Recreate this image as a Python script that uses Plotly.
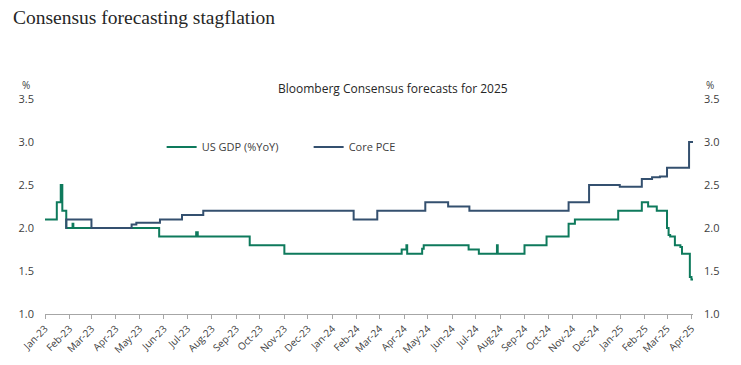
import plotly.graph_objects as go

# ---- data ----
gdp_dates = ["2023-01-01", "2023-01-16", "2023-01-21", "2023-01-23", "2023-01-28",
             "2023-02-05", "2023-02-06", "2023-05-26", "2023-07-12", "2023-07-14",
             "2023-09-18", "2023-11-01", "2024-03-29", "2024-04-04", "2024-04-05",
             "2024-04-24", "2024-04-26", "2024-06-22", "2024-07-05", "2024-07-28",
             "2024-07-29", "2024-09-01", "2024-09-29", "2024-10-27", "2024-11-04",
             "2024-12-29", "2025-01-28", "2025-02-05", "2025-02-16", "2025-03-01",
             "2025-03-03", "2025-03-05", "2025-03-11", "2025-03-18", "2025-03-20",
             "2025-03-30", "2025-04-01", "2025-04-03"]
gdp_values = [2.1, 2.3, 2.5, 2.2, 2.0,
              2.05, 2.0, 1.9, 1.95, 1.9,
              1.8, 1.7, 1.75, 1.8, 1.7,
              1.76, 1.8, 1.75, 1.7, 1.8,
              1.7, 1.8, 1.9, 2.05, 2.1,
              2.2, 2.3, 2.25, 2.2, 2.0,
              1.92, 1.9, 1.8, 1.78, 1.7,
              1.43, 1.4, 1.4]

pce_dates = ["2023-01-27", "2023-01-28", "2023-03-01", "2023-04-21", "2023-04-27",
             "2023-05-27", "2023-06-24", "2023-07-21", "2024-01-28", "2024-02-27",
             "2024-04-28", "2024-05-27", "2024-06-23", "2024-10-27", "2024-11-22",
             "2024-12-31", "2025-01-28", "2025-02-10", "2025-02-20", "2025-03-01",
             "2025-03-29", "2025-04-03"]
pce_values = [2.0, 2.1, 2.0, 2.04, 2.06,
              2.1, 2.15, 2.2, 2.1, 2.2,
              2.3, 2.25, 2.2, 2.3, 2.5,
              2.48, 2.57, 2.59, 2.6, 2.7,
              3.0, 3.0]

month_ticks = ["2023-01-01", "2023-02-01", "2023-03-01", "2023-04-01", "2023-05-01",
               "2023-06-01", "2023-07-01", "2023-08-01", "2023-09-01", "2023-10-01",
               "2023-11-01", "2023-12-01", "2024-01-01", "2024-02-01", "2024-03-01",
               "2024-04-01", "2024-05-01", "2024-06-01", "2024-07-01", "2024-08-01",
               "2024-09-01", "2024-10-01", "2024-11-01", "2024-12-01", "2025-01-01",
               "2025-02-01", "2025-03-01", "2025-04-01"]
month_labels = ["Jan-23", "Feb-23", "Mar-23", "Apr-23", "May-23", "Jun-23", "Jul-23",
                "Aug-23", "Sep-23", "Oct-23", "Nov-23", "Dec-23", "Jan-24", "Feb-24",
                "Mar-24", "Apr-24", "May-24", "Jun-24", "Jul-24", "Aug-24", "Sep-24",
                "Oct-24", "Nov-24", "Dec-24", "Jan-25", "Feb-25", "Mar-25", "Apr-25"]

GREEN = "#0E7A5C"
BLUE = "#34506F"
TXT = "#404040"
AXC = "#A6A6A6"
FONT = "Open Sans"

# page body has an 8px default margin, so the figure is 8px smaller and offset
W, H = 733, 357

fig = go.Figure()
fig.add_trace(go.Scatter(x=gdp_dates, y=gdp_values, mode="lines", name="US GDP (%YoY)",
                         line=dict(color=GREEN, width=2, shape="hv")))
fig.add_trace(go.Scatter(x=pce_dates, y=pce_values, mode="lines", name="Core PCE",
                         line=dict(color=BLUE, width=2, shape="hv")))
# invisible trace to activate right axis
fig.add_trace(go.Scatter(x=[gdp_dates[0]], y=[gdp_values[0]], yaxis="y2", mode="lines",
                         showlegend=False, hoverinfo="skip", line=dict(width=0)))

fig.update_layout(
    width=W, height=H,
    margin=dict(l=37, r=48, t=91, b=51, autoexpand=False),
    paper_bgcolor="white", plot_bgcolor="white",
    font=dict(family=FONT, color=TXT, size=11),
    title=dict(text="Consensus forecasting stagflation", x=5 / W, xanchor="left",
               y=1 - 9 / H, yanchor="middle",
               font=dict(family="Liberation Serif", size=19.5, color="#262626")),
    showlegend=True,
    legend=dict(orientation="h", x=0.18, y=0.777, xanchor="left", yanchor="middle",
                font=dict(size=11, color=TXT), bgcolor="rgba(0,0,0,0)",
                entrywidth=102, entrywidthmode="pixels"),
    xaxis=dict(type="date", range=["2023-01-01", "2025-04-03"], automargin=False,
               tickvals=month_ticks, ticktext=month_labels, tickangle=-45,
               showgrid=False, zeroline=False, showline=True, linecolor=AXC,
               linewidth=1, ticks="outside", ticklen=4, tickcolor=AXC,
               tickfont=dict(size=10, color=TXT)),
    yaxis=dict(range=[1.0, 3.5], dtick=0.5, tick0=1.0, tickformat=".1f",
               automargin=False,
               showgrid=False, zeroline=False, showline=False, ticks="",
               ticklabelstandoff=10, tickfont=dict(size=11, color=TXT)),
    yaxis2=dict(range=[1.0, 3.5], dtick=0.5, tick0=1.0, tickformat=".1f",
                automargin=False,
                overlaying="y", side="right", showgrid=False, zeroline=False,
                showline=False, ticks="", ticklabelstandoff=10,
                tickfont=dict(size=11, color=TXT)),
    annotations=[
        dict(text="Bloomberg Consensus forecasts for 2025", xref="paper", yref="paper",
             x=(393 - 45) / 648, y=(314 - 88) / 215, xanchor="center", yanchor="middle",
             showarrow=False, font=dict(size=12, color="#262626")),
        dict(text="%", xref="paper", yref="paper", x=(26 - 45) / 648,
             y=(314 - 85) / 215, xanchor="center", yanchor="middle", showarrow=False,
             font=dict(size=10, color=TXT)),
        dict(text="%", xref="paper", yref="paper", x=(710 - 45) / 648,
             y=(314 - 85) / 215, xanchor="center", yanchor="middle", showarrow=False,
             font=dict(size=10, color=TXT)),
    ],
)

fig.write_html("out.html")
